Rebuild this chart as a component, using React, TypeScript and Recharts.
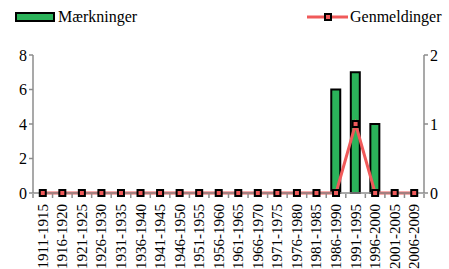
import React from 'react';
import { ComposedChart, Bar, Line, XAxis, YAxis, Legend } from 'recharts';

const periods = [
  '1911-1915', '1916-1920', '1921-1925', '1926-1930', '1931-1935',
  '1936-1940', '1941-1945', '1946-1950', '1951-1955', '1956-1960',
  '1961-1965', '1966-1970', '1971-1975', '1976-1980', '1981-1985',
  '1986-1990', '1991-1995', '1996-2000', '2001-2005', '2006-2009',
];
const maerkninger = [0, 0, 0, 0, 0, 0, 0, 0, 0, 0, 0, 0, 0, 0, 0, 6, 7, 4, 0, 0];
const genmeldinger = [0, 0, 0, 0, 0, 0, 0, 0, 0, 0, 0, 0, 0, 0, 0, 0, 1, 0, 0, 0];
const leftTicks = [0, 2, 4, 6, 8];
const rightTicks = [0, 1, 2];

const data = periods.map((p, i) => ({ period: p, m: maerkninger[i], g: genmeldinger[i] }));

const GREEN = '#2bb35a';
const RED = '#f05a5a';
const AXIS = '#8c8c8c';
const FONT = '"Liberation Serif", "Times New Roman", serif';

// square marker, black border with red fill
const SquareDot = (props: any) => {
  const { cx, cy } = props;
  if (cx == null || cy == null) return null;
  return <rect x={cx - 3} y={cy - 3} width={6} height={6} fill={RED} stroke="#000" strokeWidth={2} />;
};

// rotated label plus a small tick mark on the category boundary
const PeriodTick = (props: any) => {
  const { x, y, payload, width } = props;
  const half = (width || 391) / periods.length / 2;
  return (
    <g>
      <line x1={x + half} y1={y - 7} x2={x + half} y2={y - 3} stroke={AXIS} strokeWidth={1.5} />
      {payload.index === 0 && (
        <line x1={x - half} y1={y - 7} x2={x - half} y2={y - 3} stroke={AXIS} strokeWidth={1.5} />
      )}
      <text
        x={x}
        y={y}
        transform={`rotate(-90, ${x}, ${y})`}
        textAnchor="end"
        dominantBaseline="central"
        dx={-3}
        fontSize={15}
        fontFamily={FONT}
        fill="#000"
      >
        {payload.value}
      </text>
    </g>
  );
};

const renderLegend = () => (
  <div style={{ position: 'relative', height: 30, fontFamily: FONT, fontSize: 16, color: '#000' }}>
    <div style={{ position: 'absolute', left: 15, top: 8, display: 'flex', alignItems: 'center' }}>
      <span style={{ display: 'inline-block', width: 36, height: 6, background: GREEN, border: '2px solid #000', marginRight: 3 }} />
      <span>Mærkninger</span>
    </div>
    <div style={{ position: 'absolute', left: 307, top: 8, display: 'flex', alignItems: 'center' }}>
      <svg width={41} height={10} style={{ marginRight: 2 }}>
        <line x1={0} y1={5} x2={41} y2={5} stroke={RED} strokeWidth={3} />
        <rect x={18} y={2} width={6} height={6} fill={RED} stroke="#000" strokeWidth={2} />
      </svg>
      <span>Genmeldinger</span>
    </div>
  </div>
);

export default function App() {
  return (
    <div style={{ position: 'absolute', left: 0, top: 0, width: 449, height: 269, background: '#fff' }}>
      <ComposedChart
        width={449}
        height={269}
        data={data}
        margin={{ top: 25, right: 0, bottom: 0, left: 0 }}
        barCategoryGap={0}
      >
        <Legend verticalAlign="top" align="left" content={renderLegend} wrapperStyle={{ top: 0, left: 0, width: 449 }} />
        <XAxis
          dataKey="period"
          interval={0}
          height={76}
          tickLine={false}
          axisLine={{ stroke: AXIS, strokeWidth: 1.5 }}
          tick={<PeriodTick />}
          xAxisId="x"
        />
        <YAxis
          yAxisId="left"
          domain={[0, 8]}
          ticks={leftTicks}
          width={33}
          tickSize={4}
          axisLine={{ stroke: AXIS, strokeWidth: 1.5 }}
          tickLine={{ stroke: AXIS, strokeWidth: 1.5 }}
          tick={{ fontSize: 16, fontFamily: FONT, fill: '#000' }}
        />
        <YAxis
          yAxisId="right"
          orientation="right"
          domain={[0, 2]}
          ticks={rightTicks}
          width={25}
          tickSize={4}
          axisLine={{ stroke: AXIS, strokeWidth: 1.5 }}
          tickLine={{ stroke: AXIS, strokeWidth: 1.5 }}
          tick={{ fontSize: 16, fontFamily: FONT, fill: '#000' }}
        />
        <Bar
          xAxisId="x"
          yAxisId="left"
          dataKey="m"
          barSize={9}
          fill={GREEN}
          stroke="#000"
          strokeWidth={2}
          isAnimationActive={false}
        />
        <Line
          xAxisId="x"
          yAxisId="right"
          dataKey="g"
          stroke={RED}
          strokeWidth={3}
          dot={<SquareDot />}
          activeDot={false}
          isAnimationActive={false}
        />
      </ComposedChart>
    </div>
  );
}
